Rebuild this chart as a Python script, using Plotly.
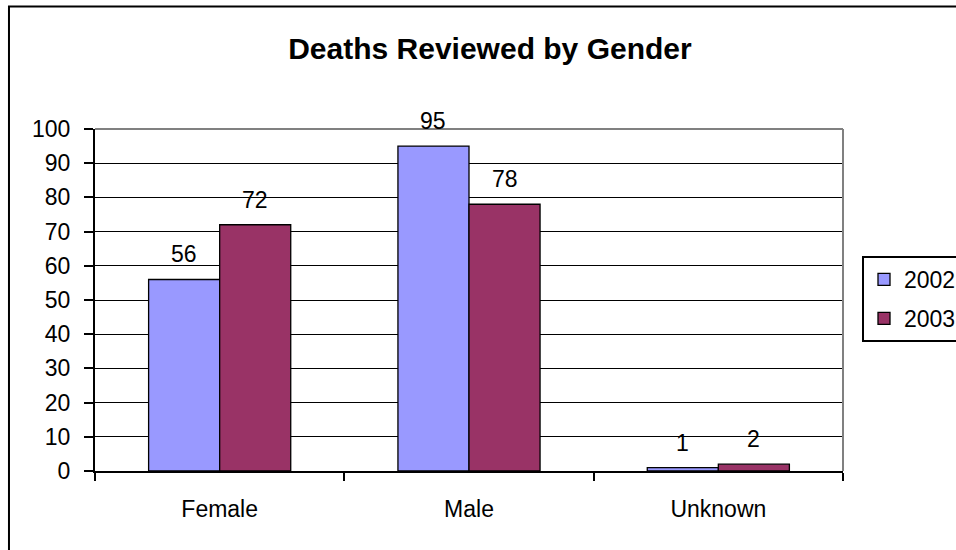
import plotly.graph_objects as go

# Deaths reviewed, grouped by gender and year
genders = ["Female", "Male", "Unknown"]
years = ["2002", "2003"]
deaths_2002 = [56, 95, 1]
deaths_2003 = [72, 78, 2]
y_ticks = list(range(0, 101, 10))

colors = {"2002": "#9999FF", "2003": "#993366"}
FONT = "Liberation Sans, Arial, sans-serif"
BARGAP = 0.43

fig = go.Figure()
for yr, vals in zip(years, [deaths_2002, deaths_2003]):
    fig.add_trace(go.Bar(
        name=yr, x=genders, y=vals, legendgroup=yr,
        marker=dict(color=colors[yr], line=dict(color="black", width=1.3)),
    ))

# value labels above each bar
bar_w = (1 - BARGAP) / len(years)
for j, vals in enumerate([deaths_2002, deaths_2003]):
    off = (j - (len(years) - 1) / 2) * bar_w
    for i, v in enumerate(vals):
        fig.add_annotation(x=i + off, y=v, text=str(v), showarrow=False,
                           yanchor="bottom", yshift=10,
                           font=dict(family=FONT, size=23, color="black"))

# gray plot-area border on top and right
fig.add_shape(type="line", xref="paper", yref="paper", x0=0, x1=1, y0=1, y1=1,
              line=dict(color="#808080", width=2), layer="above")
fig.add_shape(type="line", xref="paper", yref="paper", x0=1, x1=1, y0=0, y1=1,
              line=dict(color="#808080", width=2), layer="above")
# chart frame
fig.add_shape(type="rect", xref="paper", yref="paper",
              x0=-0.115, x1=1.3, y0=-0.4, y1=1.358,
              line=dict(color="black", width=2), layer="below")

fig.update_layout(
    width=956, height=550,
    margin=dict(l=95, r=113, t=129, b=79, autoexpand=False),
    paper_bgcolor="white", plot_bgcolor="white",
    bargap=BARGAP, bargroupgap=0, barmode="group",
    font=dict(family=FONT, size=23, color="black"),
    title=dict(text="<b>Deaths Reviewed by Gender</b>", x=0.528, xref="paper",
               y=1 - 48 / 550, yref="container", xanchor="center", yanchor="middle",
               font=dict(family=FONT, size=30, color="black")),
    legend=dict(x=(862 - 95) / 748, y=(471 - 256) / 342, xanchor="left", yanchor="top",
                bordercolor="black", borderwidth=2, bgcolor="white",
                font=dict(family=FONT, size=23, color="black"),
                tracegroupgap=6),
    xaxis=dict(showline=True, linecolor="black", linewidth=2,
               ticks="outside", tickson="boundaries", ticklen=8, tickwidth=2,
               tickcolor="black", showgrid=False, ticklabelstandoff=16),
    yaxis=dict(range=[0, 100], tickvals=y_ticks, showline=True, linecolor="black",
               linewidth=2, ticks="outside", ticklen=9, tickwidth=2, tickcolor="black",
               showgrid=True, gridcolor="black", gridwidth=1, zeroline=False,
               ticklabelstandoff=9),
)

fig.write_html("out.html")
